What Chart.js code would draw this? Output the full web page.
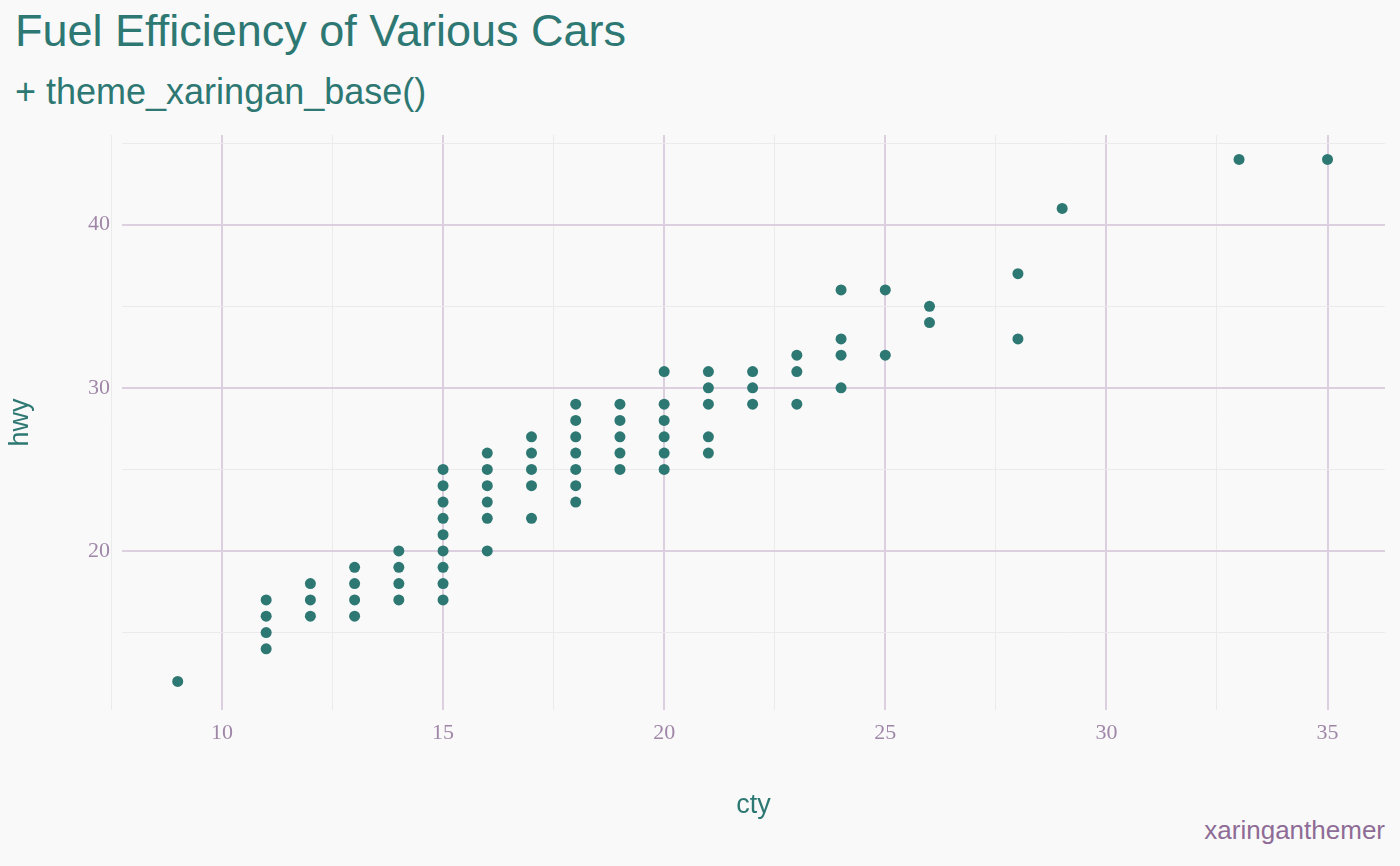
<!DOCTYPE html>
<html><head><meta charset="utf-8">
<script src="https://cdn.jsdelivr.net/npm/chart.js@4"></script>
<style>
html,body{margin:0;padding:0;background:#f9f9f9;width:1400px;height:866px;overflow:hidden;font-family:"Liberation Sans",Arial,sans-serif}
#t{position:absolute;left:15px;top:5px;font-size:45px;color:#2e7873}
#s{position:absolute;left:15px;top:71px;font-size:36px;color:#2e7873}
#c{position:absolute;right:15px;top:815px;font-size:26px;color:#8e6c96}
canvas{position:absolute;left:0;top:0}
</style></head><body>
<div id="t">Fuel Efficiency of Various Cars</div>
<div id="s">+ theme_xaringan_base()</div>
<div id="c">xaringanthemer</div>
<canvas id="ch" width="1400" height="866"></canvas>
<script>
const cty = [9,11,11,11,11,12,12,12,13,13,13,13,14,14,14,14,15,15,15,15,15,15,15,15,15,16,16,16,16,16,16,17,17,17,17,17,18,18,18,18,18,18,18,19,19,19,19,19,20,20,20,20,20,20,21,21,21,21,21,22,22,22,23,23,23,24,24,24,24,25,25,26,26,28,28,29,33,35];
const hwy = [12,14,15,16,17,16,17,18,16,17,18,19,17,18,19,20,17,18,19,20,21,22,23,24,25,20,22,23,24,25,26,22,24,25,26,27,23,24,25,26,27,28,29,25,26,27,28,29,25,26,27,28,29,31,26,27,29,30,31,29,30,31,29,31,32,30,32,33,36,32,36,34,35,33,37,41,44,44];
const xTicks = [7.5,10,12.5,15,17.5,20,22.5,25,27.5,30,32.5,35];
const yTicks = [15,20,25,30,35,40,45];
const pts = cty.map((x,i)=>({x, y:hwy[i]}));
const major='#dccfe0', minor='#ebebeb';
new Chart(document.getElementById('ch'),{
  type:'scatter',
  data:{datasets:[{data:pts,backgroundColor:'#2e7873',borderWidth:0,pointRadius:5.5}]},
  options:{responsive:false,animation:false,
    layout:{padding:{top:135,right:15,bottom:40,left:0}},
    plugins:{legend:{display:false},tooltip:{enabled:false}},
    scales:{
      x:{type:'linear',min:7.74,max:36.3,
        afterBuildTicks:s=>{s.ticks=xTicks.map(v=>({value:v}));},
        afterFit:s=>{s.height=116;},
        border:{display:false},
        grid:{color:c=>c.tick&&c.tick.value%5===0?major:minor,lineWidth:c=>c.tick&&c.tick.value%5===0?2:1,drawTicks:false},
        ticks:{color:'#a087a8',font:{family:'Liberation Serif',size:22},padding:10,autoSkip:false,maxRotation:0,
          callback:v=>v%5===0?v:''},
        title:{display:true,text:'cty',color:'#2e7873',font:{family:'Liberation Sans',size:27},padding:{top:18}}},
      y:{type:'linear',min:10.25,max:45.5,
        afterBuildTicks:s=>{s.ticks=yTicks.map(v=>({value:v}));},
        afterFit:s=>{s.width=122;},
        border:{display:false},
        grid:{color:c=>c.tick&&c.tick.value%10===0?major:minor,lineWidth:c=>c.tick&&c.tick.value%10===0?2:1,drawTicks:false},
        ticks:{color:'#a087a8',font:{family:'Liberation Serif',size:22},padding:12,autoSkip:false,
          callback:v=>v%10===0?v:''},
        title:{display:true,text:'hwy',color:'#2e7873',font:{family:'Liberation Sans',size:27},padding:{bottom:30}}}
    }}
});
</script></body></html>
